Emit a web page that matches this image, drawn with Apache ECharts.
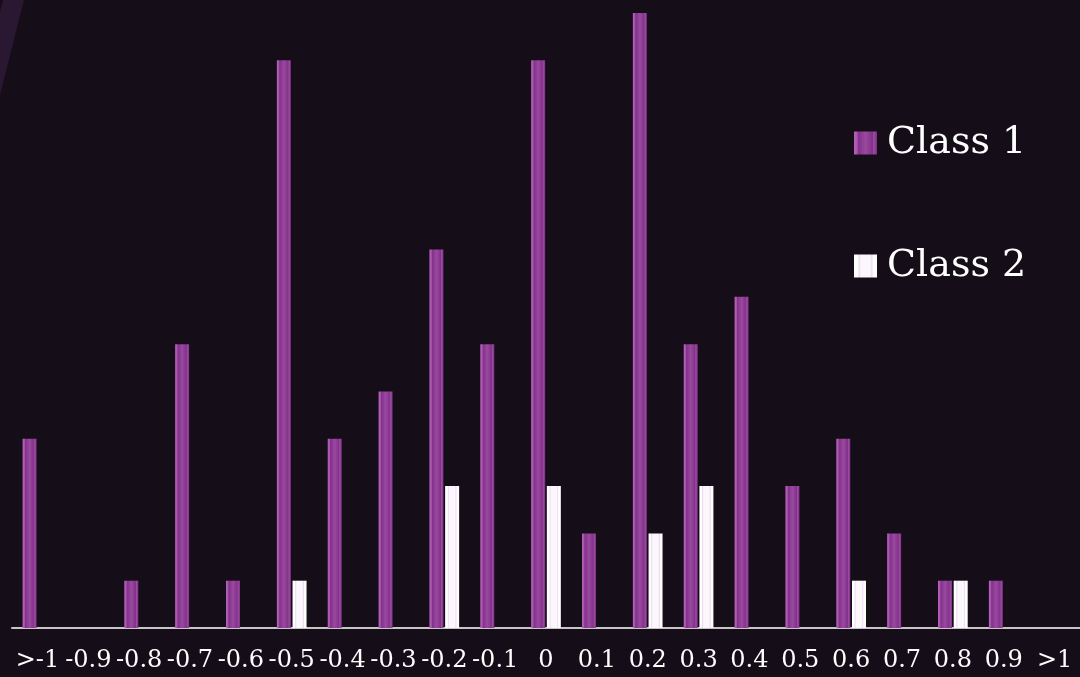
<!DOCTYPE html>
<html>
<head>
<meta charset="utf-8">
<script src="https://cdn.jsdelivr.net/npm/echarts@6/dist/echarts.min.js"></script>
<style>
  html, body { margin: 0; padding: 0; background: #150d17; }
  #chart { width: 1080px; height: 677px; }
</style>
</head>
<body>
<div id="chart"></div>
<script>
// Bin labels for the histogram
const categories = ['>-1', '-0.9', '-0.8', '-0.7', '-0.6', '-0.5', '-0.4', '-0.3', '-0.2', '-0.1',
  '0', '0.1', '0.2', '0.3', '0.4', '0.5', '0.6', '0.7', '0.8', '0.9', '>1'];

// Counts per bin
const class1 = [4, 0, 1, 6, 1, 12, 4, 5, 8, 6, 12, 2, 13, 6, 7, 3, 4, 2, 1, 1, 0];
const class2 = [0, 0, 0, 0, 0, 1, 0, 0, 3, 0, 3, 0, 2, 3, 0, 0, 1, 0, 1, 0, 0];

const seriesNames = ['Class 1', 'Class 2'];

const chart = echarts.init(document.getElementById('chart'), null, { renderer: 'canvas' });

// Bevelled purple column
const purple = new echarts.graphic.LinearGradient(0, 0, 1, 0, [
  { offset: 0, color: '#b862be' },
  { offset: 0.14, color: '#a652ac' },
  { offset: 0.2, color: '#82328a' },
  { offset: 0.5, color: '#9a48a0' },
  { offset: 0.8, color: '#82328a' },
  { offset: 0.86, color: '#9e4ba4' },
  { offset: 1, color: '#7c2e82' }
]);

// White column with a faint lavender inset
const white = new echarts.graphic.LinearGradient(0, 0, 1, 0, [
  { offset: 0, color: '#ffffff' },
  { offset: 0.16, color: '#ffffff' },
  { offset: 0.22, color: '#eadcf0' },
  { offset: 0.3, color: '#fbf7fc' },
  { offset: 0.7, color: '#fbf7fc' },
  { offset: 0.78, color: '#eadcf0' },
  { offset: 0.84, color: '#ffffff' },
  { offset: 1, color: '#ffffff' }
]);

const font = '"DejaVu Serif", "Liberation Serif", serif';

chart.setOption({
  backgroundColor: '#150d17',
  animation: false,
  graphic: [{
    type: 'polygon',
    shape: { points: [[3, 0], [24, 0], [0, 95], [0, 12]] },
    style: { fill: '#2a1832' },
    z: -1
  }],
  grid: { left: 12, right: 0, top: 13, bottom: 49 },
  legend: {
    orient: 'vertical',
    left: 854,
    top: 124,
    padding: 0,
    itemWidth: 23,
    itemHeight: 23,
    itemGap: 85,
    icon: 'rect',
    data: seriesNames,
    textStyle: {
      color: '#ffffff',
      fontFamily: font,
      fontSize: 38,
      padding: [10, 0, 0, 5]
    }
  },
  xAxis: {
    type: 'category',
    data: categories,
    axisLine: { lineStyle: { color: '#c8c4c8', width: 2 } },
    axisTick: { show: false },
    axisLabel: {
      interval: 0,
      color: '#ffffff',
      fontFamily: font,
      fontSize: 24,
      margin: 21
    }
  },
  yAxis: {
    type: 'value',
    min: 0,
    max: 13,
    show: false,
    splitLine: { show: false }
  },
  series: [
    {
      name: seriesNames[0],
      type: 'bar',
      data: class1,
      barWidth: 14,
      barGap: '12%',
      itemStyle: { color: purple }
    },
    {
      name: seriesNames[1],
      type: 'bar',
      data: class2,
      barWidth: 14,
      itemStyle: { color: white }
    }
  ]
});
</script>
</body>
</html>
